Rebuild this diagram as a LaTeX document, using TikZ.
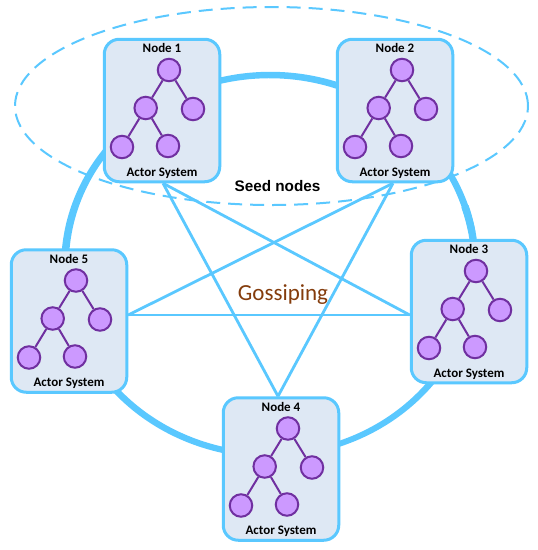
\documentclass[tikz,border=0pt]{standalone}
\usepackage{fontspec}
\usetikzlibrary{shapes.geometric}
\setmainfont{Carlito}
\newfontfamily\seedfont{Liberation Sans}
\definecolor{ringblue}{HTML}{5AC8FF}
\definecolor{boxfill}{HTML}{DEE8F4}
\definecolor{leaf}{HTML}{CC99FF}
\definecolor{leafline}{HTML}{7030A0}
\definecolor{gossip}{HTML}{843C0C}
\tikzset{
  clusterbox/.style={draw=ringblue,fill=boxfill,line width=3pt,rounded corners=15pt,minimum width=115.5pt,minimum height=142.5pt,inner sep=0pt},
  actor/.style={circle,draw=leafline,fill=leaf,line width=2pt,minimum size=22.5pt,inner sep=0pt},
  treeline/.style={draw=leafline,line width=2pt},
  gossipline/.style={draw=ringblue,line width=2.8pt},
  boxlabel/.style={font=\bfseries\fontsize{13}{15}\selectfont,inner sep=0pt,text=black},
}
% tapered arc of the ring: start angle, end angle, start width, end width
\newcommand{\ringarc}[4]{%
  \fill[ringblue] plot[smooth,domain=#1:#2,samples=40]
    ({270+(205+0.5*(#3+(#4-#3)*(\x-#1)/(#2-#1)))*cos(\x)},{265-(190+0.5*(#3+(#4-#3)*(\x-#1)/(#2-#1)))*sin(\x)})
    -- plot[smooth,domain=#2:#1,samples=40]
    ({270+(205-0.5*(#3+(#4-#3)*(\x-#1)/(#2-#1)))*cos(\x)},{265-(190-0.5*(#3+(#4-#3)*(\x-#1)/(#2-#1)))*sin(\x)})
    -- cycle;}
\newcommand{\clusterat}[4]{%
  \node[clusterbox] (#1) at (#2,#3) {};
  \node[boxlabel] (#1title) at ({#2},{#3-62.5}) {#4};
  \node[boxlabel] (#1sys) at ({#2},{#3+62.5}) {Actor System};
  \node[actor] (#1a) at ({#2+7},{#3-40.5}) {};
  \node[actor] (#1b) at ({#2-16.3},{#3-2.5}) {};
  \node[actor] (#1c) at ({#2+31},{#3-1.5}) {};
  \node[actor] (#1d) at ({#2-40},{#3+36.5}) {};
  \node[actor] (#1e) at ({#2+6},{#3+35.5}) {};
  \draw[treeline] (#1a) -- (#1b);
  \draw[treeline] (#1a) -- (#1c);
  \draw[treeline] (#1b) -- (#1d);
  \draw[treeline] (#1b) -- (#1e);
}
\begin{document}
\begin{tikzpicture}[x=1pt,y=-1pt]
\useasboundingbox (0,0) rectangle (538,550);
\fill[white] (0,0) rectangle (538,550);
% ring
\ringarc{125}{50}{6}{7}
\ringarc{52}{10}{5.5}{7}
\ringarc{18}{-85}{7.5}{5.5}
\ringarc{-90}{-170}{6}{7}
\ringarc{190}{118}{8}{6}
% seed-node ellipse
\node[ellipse,draw=ringblue,line width=2pt,dash pattern=on 14pt off 8pt,minimum width=513pt,minimum height=198pt,inner sep=0pt] (seed) at (271.5,106) {};
% boxes
\clusterat{nA}{162}{110.5}{Node 1}
\clusterat{nB}{395}{110.5}{Node 2}
\clusterat{nC}{469}{311.5}{Node 3}
\clusterat{nD}{281}{469}{Node 4}
\clusterat{nE}{69}{321}{Node 5}
% gossip star
\draw[gossipline] ([xshift=1pt]nA.south) -- ([xshift=-3pt]nD.north);
\draw[gossipline] ([xshift=1pt]nA.south) -- ([yshift=-3.5pt]nC.west);
\draw[gossipline] ([xshift=-2pt]nB.south) -- ([xshift=-3pt]nD.north);
\draw[gossipline] ([xshift=-2pt]nB.south) -- ([yshift=6pt]nE.east);
\draw[gossipline] ([yshift=6pt]nE.east) -- ([yshift=-3.5pt]nC.west);
\node[font=\seedfont\bfseries\fontsize{15.3}{17}\selectfont,inner sep=0pt] (seedlabel) at (277.5,186) {Seed nodes};
\node[font=\fontsize{23}{26}\selectfont,text=gossip,inner sep=0pt] (gossiping) at (283,295) {Gossiping};
\end{tikzpicture}
\end{document}
